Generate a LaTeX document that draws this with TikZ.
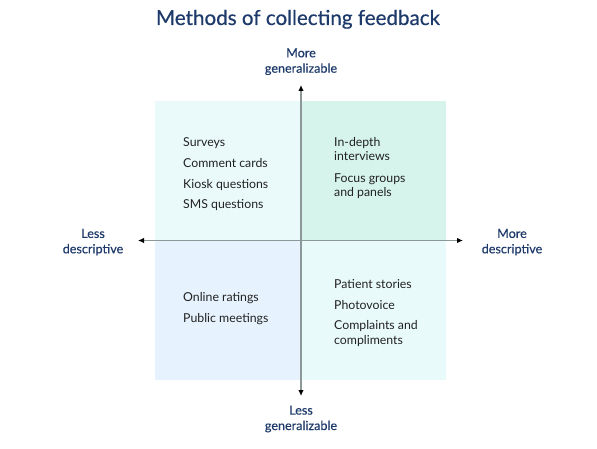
\documentclass[tikz,border=0pt]{standalone}
\usepackage{fontspec}
\setmainfont{Lato}
\newfontfamily\semilato[FakeBold=0.45]{Lato}
\usepackage{xcolor}
\definecolor{navy}{HTML}{1E3A6A}
\definecolor{bodytext}{HTML}{222222}
\definecolor{axisgray}{HTML}{8C9898}
\definecolor{tlfill}{HTML}{EAFAFB}
\definecolor{trfill}{HTML}{D6F4EC}
\definecolor{blfill}{HTML}{E6F2FD}
\definecolor{brfill}{HTML}{E9FAFA}
\usetikzlibrary{arrows.meta, positioning}

\tikzset{
  item/.style={anchor=base west, inner sep=0pt, align=left, bodytext,
    font=\fontsize{12.3}{14.6}\selectfont},
  axislabel/.style={anchor=base, inner sep=0pt, align=center, navy,
    font=\fontsize{12.6}{15.4}\selectfont\semilato},
  axis/.style={draw=axisgray, line width=1.5pt,
    {Latex[black, length=6pt, width=5.5pt]}-{Latex[black, length=6pt, width=5.5pt]}}
}

\begin{document}
\begin{tikzpicture}[x=1pt, y=-1pt]
  \useasboundingbox (0,0) rectangle (597,449);

  % title
  \node[anchor=base, inner sep=0pt, navy, font=\fontsize{20.6}{24}\selectfont\semilato] (title) at (298,25) {Methods of collecting feedback};

  % quadrants
  \fill[tlfill] (155,101) rectangle (301,240.5);
  \fill[trfill] (301,101) rectangle (446,240.5);
  \fill[blfill] (155,240.5) rectangle (301,380);
  \fill[brfill] (301,240.5) rectangle (446,380);

  % axes
  \coordinate (ntop) at (301,85);
  \coordinate (nbot) at (301,396);
  \coordinate (wend) at (138,240.5);
  \coordinate (eend) at (463,240.5);
  \draw[axis] (nbot) -- (ntop);
  \draw[axis] (wend) -- (eend);

  % axis labels (base = last line)
  \node[axislabel] (moregen) at (301,72.7) {More\\generalizable};
  \node[axislabel] (lessgen) at (301,430) {Less\\generalizable};
  \node[axislabel] (lessdesc) at (93,253.3) {Less\\descriptive};
  \node[axislabel] (moredesc) at (512,253.3) {More\\descriptive};

  % top left
  \node[item] (surveys) at (183,146.7) {Surveys};
  \node[item] (comment) at (183,167.5) {Comment cards};
  \node[item] (kiosk)   at (183,188.2) {Kiosk questions};
  \node[item] (sms)     at (183,208.8) {SMS questions};

  % top right
  \node[item] (indepth) at (334,160.9) {In-depth\\interviews};
  \node[item] (focus)   at (334,196.7) {Focus groups\\and panels};

  % bottom left
  \node[item] (online) at (183,301.7) {Online ratings};
  \node[item] (public) at (183,322.3) {Public meetings};

  % bottom right
  \node[item] (patient)   at (334,288.3) {Patient stories};
  \node[item] (photo)     at (334,309) {Photovoice};
  \node[item] (complaint) at (334,344.3) {Complaints and\\compliments};
\end{tikzpicture}
\end{document}
